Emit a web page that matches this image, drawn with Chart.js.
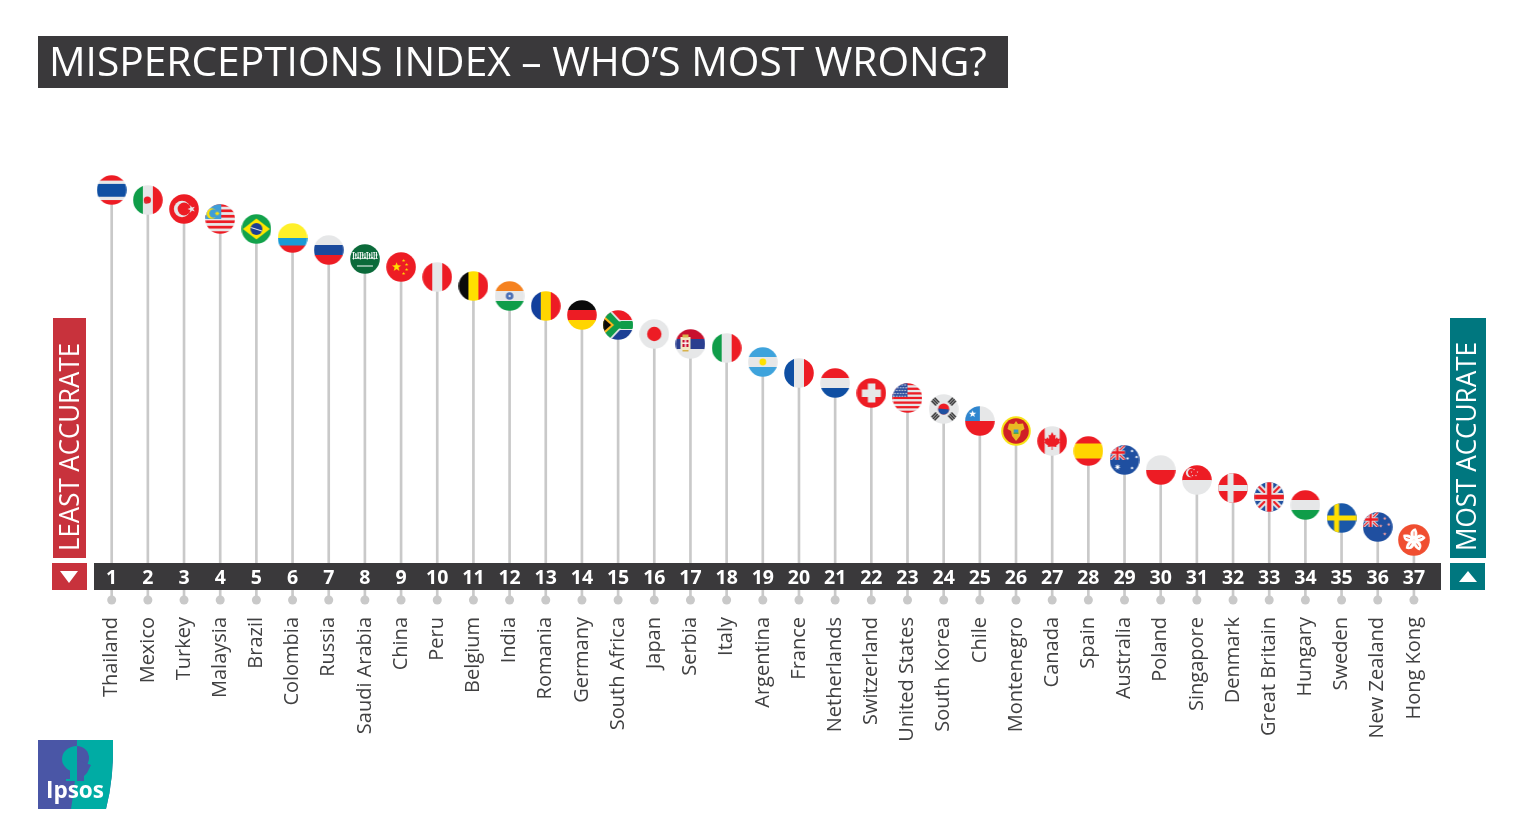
<!DOCTYPE html>
<html><head><meta charset="utf-8">
<style>html,body{margin:0;padding:0;background:#fff}canvas{display:block}</style>
<script src="https://cdn.jsdelivr.net/npm/chart.js@4/dist/chart.umd.min.js"></script>
</head><body><canvas id="c" width="1535" height="840"></canvas>
<script>
const titleText = "MISPERCEPTIONS INDEX – WHO’S MOST WRONG?";
const leastLabel = "LEAST ACCURATE";
const mostLabel = "MOST ACCURATE";
const logoLabel = "Ipsos";
const countries = ["Thailand","Mexico","Turkey","Malaysia","Brazil","Colombia","Russia","Saudi Arabia","China","Peru","Belgium","India","Romania","Germany","South Africa","Japan","Serbia","Italy","Argentina","France","Netherlands","Switzerland","United States","South Korea","Chile","Montenegro","Canada","Spain","Australia","Poland","Singapore","Denmark","Great Britain","Hungary","Sweden","New Zealand","Hong Kong"];
const ranks = [1,2,3,4,5,6,7,8,9,10,11,12,13,14,15,16,17,18,19,20,21,22,23,24,25,26,27,28,29,30,31,32,33,34,35,36,37];
const indexValues = [82,80,78.2,76.2,74.2,72.4,70,68.2,66.6,64.6,62.8,60.8,58.8,57,55,53.2,51.2,50.4,47.6,45.4,43.4,41.4,40.4,38.2,35.8,33.8,31.8,29.8,28,26,24,22.4,20.6,19,16.4,14.6,12];
const baseline = [0,0,0,0,0,0,0,0,0,0,0,0,0,0,0,0,0,0,0,0,0,0,0,0,0,0,0,0,0,0,0,0,0,0,0,0,0];

const R='#ed1c24',W='#e6e7e8',B='#0f4fa3',G='#0f9d49',Y='#fff200',K='#0a0a0a',N='#1d3f8f';
function hs(c,cols,rat){let t=0,s=rat||cols.map(()=>1),S=s.reduce((a,b)=>a+b,0);cols.forEach((k,i)=>{c.fillStyle=k;c.fillRect(0,t,30,30*s[i]/S+.5);t+=30*s[i]/S;});}
function vs(c,cols,rat){let t=0,s=rat||cols.map(()=>1),S=s.reduce((a,b)=>a+b,0);cols.forEach((k,i)=>{c.fillStyle=k;c.fillRect(t,0,30*s[i]/S+.5,30);t+=30*s[i]/S;});}
function circ(c,x,y,r,k){c.fillStyle=k;c.beginPath();c.arc(x,y,r,0,7);c.fill();}
function star(c,x,y,r,k,n=5,rot=0){c.fillStyle=k;c.beginPath();for(let i=0;i<n*2;i++){const a=rot-Math.PI/2+i*Math.PI/n,q=i%2?r*.42:r;c.lineTo(x+q*Math.cos(a),y+q*Math.sin(a));}c.closePath();c.fill();}
function line(c,a,b,d,e,k,w){c.strokeStyle=k;c.lineWidth=w;c.beginPath();c.moveTo(a,b);c.lineTo(d,e);c.stroke();}
function poly(c,k,pts){c.fillStyle=k;c.beginPath();pts.forEach(p=>c.lineTo(p[0],p[1]));c.closePath();c.fill();}
function union(c,x,y,w,h){c.save();c.beginPath();c.rect(x,y,w,h);c.clip();c.fillStyle='#1f4fa0';c.fillRect(x,y,w,h);const t=w/30;
 line(c,x,y,x+w,y+h,W,6*t);line(c,x+w,y,x,y+h,W,6*t);line(c,x,y,x+w,y+h,R,2.2*t);line(c,x+w,y,x,y+h,R,2.2*t);
 line(c,x+w/2,y,x+w/2,y+h,W,8*t);line(c,x,y+h/2,x+w,y+h/2,W,8*t);line(c,x+w/2,y,x+w/2,y+h,R,4.4*t);line(c,x,y+h/2,x+w,y+h/2,R,4.4*t);c.restore();}
function stripes(c,n,a,b){for(let i=0;i<n;i++){c.fillStyle=i%2?b:a;c.fillRect(0,i*30/n,30,30/n+.5);}}
const painters = {
 "Thailand":c=>hs(c,[R,W,'#0f4fa3',W,R],[1.7,1,3.9,1,1.5]),
 "Mexico":c=>{vs(c,[G,W,R]);circ(c,14.5,15,3.6,R);circ(c,13,17,1.8,'#d8323a');},
 "Turkey":c=>{c.fillStyle=R;c.fillRect(0,0,30,30);circ(c,13,15,8.2,W);circ(c,15,15,6.4,R);star(c,22.5,15,4,W,5,-0.3);},
 "Malaysia":c=>{stripes(c,11,R,W);c.fillStyle='#3f9ed8';c.fillRect(0,0,16,15);circ(c,6.5,9.5,5.2,'#ffe100');circ(c,8.2,9.5,4.2,'#3f9ed8');star(c,12,9.5,2.8,'#ffe100',8);},
 "Brazil":c=>{c.fillStyle='#12a24b';c.fillRect(0,0,30,30);poly(c,'#ffe600',[[1.5,15],[15,4.5],[28.5,15],[15,25.5]]);circ(c,15,15,6,'#1c3f94');line(c,9.5,13.5,20.5,17,'#f2f2f2',1);},
 "Colombia":c=>hs(c,['#fff02a','#1a9ad6',R],[2,1,1]),
 "Russia":c=>hs(c,[W,'#1b4a9c',R]),
 "Saudi Arabia":c=>{c.fillStyle='#0b6a3a';c.fillRect(0,0,30,30);for(let i=0;i<11;i++){const x=3.5+i*2.3;line(c,x,8+(i%2),x,15.5-(i%3),'#fff',1);line(c,x-1,8.5+i%3*2.5,x+1.2,8.5+i%3*2.5,'#fff',.9);line(c,x-1,14.5,x+1.2,14.5,'#fff',.8);}line(c,7,22,23,22,'#fff',1.2);},
 "China":c=>{c.fillStyle=R;c.fillRect(0,0,30,30);star(c,10.5,15,4.8,'#ffe100');star(c,17.5,8.5,1.7,'#ffe100');star(c,20.5,12.5,1.7,'#ffe100');star(c,20.5,17.5,1.7,'#ffe100');star(c,17.5,21.5,1.7,'#ffe100');},
 "Peru":c=>vs(c,[R,W,R]),
 "Belgium":c=>vs(c,[K,'#ffe000',R]),
 "India":c=>{hs(c,['#f58220',W,G]);circ(c,15,15,3.8,'#4a6fb5');circ(c,15,15,1.2,'#d5dcec');},
 "Romania":c=>vs(c,['#123f9c','#ffd500',R]),
 "Germany":c=>hs(c,[K,R,'#ffd500']),
 "South Africa":c=>{hs(c,[R,W,'#1c3f94']);c.fillStyle=G;c.fillRect(0,11,30,8);line(c,0,0,14,15,W,11);line(c,0,30,14,15,W,11);line(c,0,0,14,15,G,7.5);line(c,0,30,14,15,G,7.5);c.fillStyle=G;c.fillRect(14,11.5,16,7);poly(c,'#ffb81c',[[0,5],[11,15],[0,25]]);poly(c,K,[[0,8],[8,15],[0,22]]);},
 "Japan":c=>{c.fillStyle=W;c.fillRect(0,0,30,30);circ(c,15,15,7.2,R);},
 "Serbia":c=>{hs(c,['#c8102e','#2b3f8f',W]);c.fillStyle='#f3e8c4';c.fillRect(5,8,10,13);c.fillStyle='#c8102e';c.fillRect(7,11,6,7);c.fillStyle='#fff';c.fillRect(9.3,11,1.4,7);c.fillRect(7,13.5,6,1.4);c.fillStyle='#d8b24a';c.fillRect(7,5.5,6,3);c.fillRect(7,21,6,1.5);},
 "Italy":c=>vs(c,[G,W,R]),
 "Argentina":c=>{hs(c,['#3ea3dc',W,'#3ea3dc']);circ(c,15,15,3.4,'#ffe100');},
 "France":c=>vs(c,['#0f4fa3',W,R]),
 "Netherlands":c=>hs(c,[R,W,'#0f4fa3']),
 "Switzerland":c=>{c.fillStyle=R;c.fillRect(0,0,30,30);c.fillStyle=W;c.fillRect(11.5,5.5,7.5,19);c.fillRect(5.5,11.5,19,7.5);},
 "United States":c=>{stripes(c,13,R,W);c.fillStyle='#2c4f9f';c.fillRect(0,0,15,14);for(let y=2;y<14;y+=2.8)for(let x=1.5+(y%5.6>2?1:0);x<15;x+=2.8)circ(c,x,y,.75,W);},
 "South Korea":c=>{c.fillStyle=W;c.fillRect(0,0,30,30);circ(c,15,15,5.5,R);c.fillStyle='#1d4fa0';c.beginPath();c.arc(15,15,5.5,.1,Math.PI+.1);c.fill();for(const [x,y,a] of [[6.5,7.5,.8],[23.5,7.5,-.8],[6.5,22.5,-.8],[23.5,22.5,.8]]){c.save();c.translate(x,y);c.rotate(a);c.fillStyle='#222';c.fillRect(-3.5,-2.8,7,1.4);c.fillRect(-3.5,-.7,7,1.4);c.fillRect(-3.5,1.4,7,1.4);c.restore();}},
 "Chile":c=>{hs(c,[W,R]);c.fillStyle='#2f86cf';c.fillRect(0,0,15,15);star(c,7.7,8,3.8,'#fff');},
 "Montenegro":c=>{c.fillStyle='#f7e318';c.fillRect(0,0,30,30);circ(c,15,15,12.8,'#d01f26');poly(c,'#e8b923',[[15,5],[17,8],[22,7.5],[23.5,13],[20,15],[19,20],[15,25],[11,20],[10,15],[6.5,13],[8,7.5],[13,8]]);c.fillStyle='#3b9ac4';c.fillRect(12.7,13.5,4.6,4.5);c.fillStyle='#5aa83c';c.fillRect(12.7,16.5,4.6,1.5);},
 "Canada":c=>{vs(c,[R,W,R],[1,2,1]);poly(c,R,[[15,6],[16.7,9.5],[18.5,8.7],[18,13],[20,11.2],[20.8,13],[23,12.6],[22,15.8],[23,16.4],[19,19.8],[19.4,21],[15.4,20.5],[15.4,24],[14.6,24],[14.6,20.5],[10.6,21],[11,19.8],[7,16.4],[8,15.8],[7,12.6],[9.2,13],[10,11.2],[12,13],[11.5,8.7],[13.3,9.5]]);},
 "Spain":c=>hs(c,[R,'#ffd500',R],[1,2,1]),
 "Australia":c=>{c.fillStyle='#1f4fa0';c.fillRect(0,0,30,30);union(c,0,0,15.5,15);star(c,8,22,3.2,'#fff',7);star(c,22.5,6,1.7,'#fff',7);star(c,22.5,23,1.7,'#fff',7);star(c,18,13.5,1.7,'#fff',7);star(c,27,12,1.7,'#fff',7);},
 "Poland":c=>hs(c,[W,R]),
 "Singapore":c=>{hs(c,[R,W]);circ(c,8.5,7.7,4.6,W);circ(c,10.2,7.7,4.2,R);for(const [x,y] of [[12,4.5],[15.5,7],[14,10.5],[10.5,10.5],[9.5,7]])star(c,x,y,1,W);},
 "Denmark":c=>{c.fillStyle=R;c.fillRect(0,0,30,30);c.fillStyle=W;c.fillRect(9.5,0,6,30);c.fillRect(0,12,30,6);},
 "Great Britain":c=>union(c,0,0,30,30),
 "Hungary":c=>hs(c,[R,W,G]),
 "Sweden":c=>{c.fillStyle='#1a58a8';c.fillRect(0,0,30,30);c.fillStyle='#ffdf00';c.fillRect(7.5,0,5,30);c.fillRect(0,12.5,30,5);},
 "New Zealand":c=>{c.fillStyle='#1f4fa0';c.fillRect(0,0,30,30);union(c,0,0,15.5,15);for(const [x,y] of [[22,6.5],[18,14],[26,12.5],[22,22]])star(c,x,y,1.9,'#f5a0a0');},
 "Hong Kong":c=>{c.fillStyle='#f04e30';c.fillRect(0,0,30,30);for(let i=0;i<5;i++){c.save();c.translate(15,15);c.rotate(i*2*Math.PI/5);c.fillStyle='#fff';c.beginPath();c.moveTo(0,0);c.bezierCurveTo(-6,-5,-3,-10,1.5,-11);c.bezierCurveTo(4,-7,4,-3,0,0);c.fill();c.fillStyle='#f04e30';c.fillRect(-.3,-8,.7,4);c.restore();}}
};
function makeFlag(name){const s=name==="Hong Kong"?32:30,f=document.createElement('canvas');f.width=s;f.height=s;const c=f.getContext('2d');c.scale(s/30,s/30);c.beginPath();c.arc(15,15,14.8,0,7);c.clip();painters[name](c);return f;}
const flagImages = countries.map(makeFlag);

const decor = {id:'decor',
 beforeDraw(ch){const c=ch.ctx;c.save();
  c.fillStyle='#fff';c.fillRect(0,0,1535,840);
  c.fillStyle='#3a393b';c.fillRect(38,36,970,52);
  c.fillStyle='#fff';c.font='40.7px "Open Sans"';c.textBaseline='middle';c.textAlign='left';c.fillText(titleText,49,64.5);
  c.restore();},
 afterDatasetsDraw(ch){const c=ch.ctx,x=ch.scales.x;c.save();
  c.fillStyle='#3a393b';c.fillRect(94,563,1347,27);
  c.fillStyle='#fff';c.font='bold 19.5px "Open Sans"';c.textAlign='center';c.textBaseline='middle';
  ranks.forEach((r,i)=>c.fillText(String(r),x.getPixelForTick(i),578));
  // side panels
  c.fillStyle='#c8323c';c.fillRect(53,318,33,240);c.fillRect(52,563,35,27);
  c.fillStyle='#00777f';c.fillRect(1450,318,36,240);c.fillRect(1450,563,35,27);
  c.fillStyle='#fff';c.font='28px "Open Sans"';c.textBaseline='middle';c.textAlign='left';
  c.save();c.translate(71,551);c.rotate(-Math.PI/2);c.fillText(leastLabel,0,0,208);c.restore();
  c.save();c.translate(1468.5,551);c.rotate(-Math.PI/2);c.fillText(mostLabel,0,0,209);c.restore();
  c.beginPath();c.moveTo(60,571);c.lineTo(78,571);c.lineTo(69,583);c.closePath();c.fill();
  c.beginPath();c.moveTo(1459,582);c.lineTo(1477,582);c.lineTo(1468,571);c.closePath();c.fill();
  // logo
  c.save();c.beginPath();c.moveTo(38,740);c.lineTo(113,740);c.quadraticCurveTo(114,778,106,809);c.lineTo(38,809);c.closePath();c.clip();
  c.fillStyle='#4a56a6';c.fillRect(38,740,76,69);
  c.fillStyle='#00aca4';c.beginPath();c.moveTo(77,740);c.lineTo(114,740);c.lineTo(114,809);c.lineTo(71,809);c.quadraticCurveTo(77,775,77,740);c.fill();
  c.save();c.beginPath();c.rect(38,740,39,69);c.clip();c.fillStyle='#00aca4';c.beginPath();c.ellipse(77,759,15,13,0,0,7);c.fill();c.fillRect(70,768,8,12);c.fillRect(66,779,12,2);c.restore();
  c.save();c.beginPath();c.rect(77,740,30,69);c.clip();c.fillStyle='#4a56a6';c.beginPath();c.ellipse(77,758,12,12,0,0,7);c.fill();c.beginPath();c.moveTo(77,760);c.lineTo(91,765);c.lineTo(87,773);c.lineTo(84,776);c.lineTo(84,781);c.lineTo(77,781);c.fill();c.restore();
  c.fillStyle='#fff';c.font='bold 22.5px "Open Sans"';c.textAlign='left';c.textBaseline='alphabetic';c.fillText(logoLabel,46,798);
  c.restore();
  c.restore();}
};

new Chart(document.getElementById('c'),{
 data:{labels:countries,datasets:[
  {type:'line',label:'Flags',data:indexValues,showLine:false,pointStyle:flagImages,pointRadius:15,pointHoverRadius:15,clip:false,order:1},
  {type:'line',label:'Base',data:baseline,showLine:false,pointStyle:'circle',pointRadius:4.5,pointBorderWidth:0,pointBackgroundColor:'#c9c9c9',clip:false,order:2},
  {type:'bar',label:'Misperceptions index',data:indexValues,backgroundColor:'#c9c9c9',barThickness:2,order:3}
 ]},
 options:{responsive:false,animation:false,devicePixelRatio:1,
  layout:{padding:{left:93.6,right:103,top:100,bottom:0}},
  plugins:{legend:{display:false},tooltip:{enabled:false},title:{display:false}},
  scales:{
   y:{display:false,min:0,max:100,grid:{display:false}},
   x:{offset:true,grid:{display:false,drawTicks:false},border:{display:false},
      afterFit(s){s.height=240;},
      ticks:{autoSkip:false,minRotation:90,maxRotation:90,padding:17,color:'#404041',font:{family:'"Open Sans"',size:20}}}
  }
 },plugins:[decor]});
</script></body></html>
